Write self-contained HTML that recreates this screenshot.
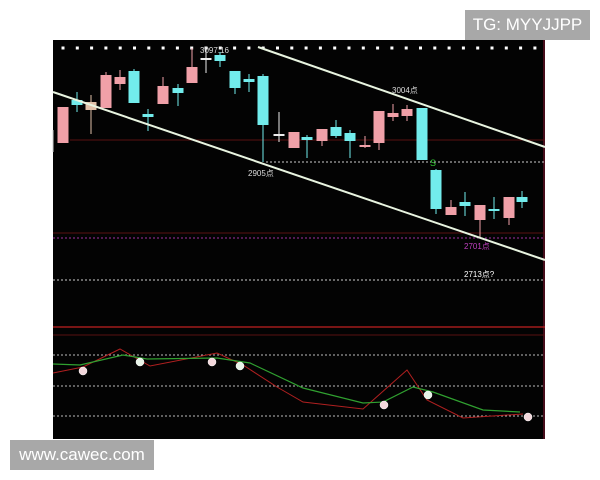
<!DOCTYPE html>
<html><head><meta charset="utf-8"><style>
html,body{margin:0;padding:0;background:#fff;width:600px;height:480px;overflow:hidden}
.wm{position:absolute;background:#a8a8a8;color:#fff;font-family:"Liberation Sans",sans-serif}
</style></head><body>
<svg width="600" height="480" style="position:absolute;left:0;top:0" xmlns="http://www.w3.org/2000/svg">
<rect x="53" y="40" width="492" height="399" fill="#030303"/>
<line x1="544" y1="40" x2="544" y2="439" stroke="#8a1530" stroke-width="1"/>
<line x1="61.5" y1="48" x2="545" y2="48" stroke="#fff" stroke-width="3" stroke-dasharray="3,11.3"/>
<line x1="70" y1="140" x2="545" y2="140" stroke="#5a1010" stroke-width="1"/>
<line x1="266" y1="162" x2="545" y2="162" stroke="#ccc" stroke-width="1" stroke-dasharray="2,2"/>
<line x1="53" y1="233" x2="545" y2="233" stroke="#5a1010" stroke-width="1"/>
<line x1="53" y1="238" x2="545" y2="238" stroke="#a030a0" stroke-width="1" stroke-dasharray="2,2"/>
<line x1="53" y1="280" x2="545" y2="280" stroke="#ccc" stroke-width="1" stroke-dasharray="2,2"/>
<line x1="53" y1="327" x2="545" y2="327" stroke="#c02020" stroke-width="1.3"/>
<line x1="53" y1="335" x2="545" y2="335" stroke="#5a1010" stroke-width="1"/>
<line x1="53" y1="355" x2="545" y2="355" stroke="#bbb" stroke-width="1" stroke-dasharray="2,2"/>
<line x1="53" y1="386" x2="545" y2="386" stroke="#bbb" stroke-width="1" stroke-dasharray="2,2"/>
<line x1="53" y1="416" x2="545" y2="416" stroke="#bbb" stroke-width="1" stroke-dasharray="2,2"/>
<line x1="53" y1="130" x2="53" y2="152" stroke="#ccc" stroke-width="1"/>
<g id="c"></g>
<line x1="258" y1="47" x2="545" y2="147" stroke="#e8f4e0" stroke-width="2"/>
<line x1="53" y1="92" x2="545" y2="260" stroke="#e8f4e0" stroke-width="2"/>
<g font-family="Liberation Sans,'Noto Sans CJK SC',sans-serif" font-size="8" fill="#ddd">
<text x="200" y="53">3097.16</text>
<text x="392" y="93">3004点</text>
<text x="248" y="176">2905点</text>
<text x="464" y="249" fill="#c040c0">2701点</text>
<text x="464" y="277" fill="#fff">2713点?</text>
<text x="430" y="166" fill="#3c3" font-size="9">S</text>
</g>
<polyline fill="none" stroke="#b02020" stroke-width="1" points="53,373 83,367 120,349 150,366 217,353 243,365 277,387 303,402 363,409 407,370 427,400 463,418 523,414"/>
<polyline fill="none" stroke="#30a030" stroke-width="1.2" points="53,364 80,365 123,355 147,359 217,358 250,363 303,388 363,403 383,402 413,387 433,392 483,410 520,412"/>
<g fill="#f4d8dc" stroke="#fff" stroke-width="0.5">
<circle cx="83" cy="371" r="4"/><circle cx="140" cy="362" r="4" fill="#e8f4e8"/><circle cx="212" cy="362" r="4"/><circle cx="240" cy="366" r="4" fill="#e8f4e8"/><circle cx="384" cy="405" r="4"/><circle cx="428" cy="395" r="4" fill="#e8f4e8"/><circle cx="528" cy="417" r="4"/>
</g>
</svg>
<div class="wm" style="left:465px;top:10px;width:125px;height:30px;font-size:17px;line-height:30px;text-align:center">TG: MYYJJPP</div>
<div class="wm" style="left:10px;top:440px;width:144px;height:30px;font-size:17px;line-height:30px;text-align:center">www.cawec.com</div>
<script>
var R="#f0a0a8",C="#72ecec",T="#e0c0a8";
var d=[[63,107,143,107,143,R],[77,100,105,92,112,C],[91,102,110,95,134,T],[106,75,108,72,108,R],[120,77,84,70,90,R],[134,71,103,69,103,C],[148,114,117,109,131,C],[163,86,104,77,104,R],[178,88,93,84,106,C],[192,67,83,48,83,R],[206,58,60,48,73,"#eee"],[220,55,61,52,67,C],[235,71,88,71,94,C],[249,79,82,74,92,C],[263,76,125,74,162,C],[279,134,136,112,142,"#eee"],[294,132,148,132,148,R],[307,137,140,135,158,C],[322,129,141,129,146,R],[336,127,136,120,138,C],[350,133,141,130,158,C],[365,145,147,136,148,R],[379,111,143,111,150,R],[393,113,117,104,121,R],[407,109,116,105,121,R],[422,108,160,108,160,C],[436,170,209,169,214,C],[451,207,215,200,215,R],[465,202,206,192,216,C],[480,205,220,205,238,R],[494,209,211,197,219,C],[509,197,218,197,225,R],[522,197,202,191,208,C]];
var s="";d.forEach(function(c){s+='<line x1="'+c[0]+'" y1="'+c[3]+'" x2="'+c[0]+'" y2="'+c[4]+'" stroke="'+c[5]+'" stroke-width="1"/><rect x="'+(c[0]-5.5)+'" y="'+c[1]+'" width="11" height="'+Math.max(2,c[2]-c[1])+'" fill="'+c[5]+'"/>';});
document.getElementById("c").innerHTML=s;
</script>
</body></html>
